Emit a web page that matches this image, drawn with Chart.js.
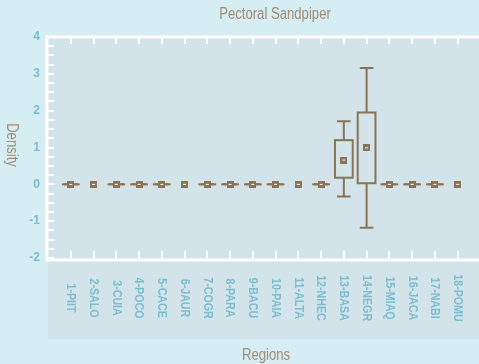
<!DOCTYPE html>
<html>
<head>
<meta charset="utf-8">
<script src="https://cdn.jsdelivr.net/npm/chart.js@4.4.1/dist/chart.umd.min.js"></script>
<style>
  html, body { margin: 0; padding: 0; background: #d5edf3; }
  #wrap { width: 479px; height: 364px; position: relative; }
</style>
</head>
<body>
<div id="wrap"><canvas id="c" width="479" height="364"></canvas></div>
<script>
// Density of Pectoral Sandpiper per region: mean, box (q1..q3) and whiskers
const regions = ['1-PIIT','2-SALO','3-CUIA','4-POCO','5-CACE','6-JAUR','7-COGR','8-PARA','9-BACU',
                 '10-PAIA','11-ALTA','12-NHEC','13-BASA','14-NEGR','15-MIAQ','16-JACA','17-NABI','18-POMU'];
const means       = [0, 0, 0, 0, 0, 0, 0, 0, 0, 0, 0, 0, 0.66, 0.99, 0, 0, 0, 0];
const boxLow      = [0, null, 0, 0, 0, null, 0, 0, 0, 0, null, 0, 0.18, 0.03, 0, 0, 0, null];
const boxHigh     = [0, null, 0, 0, 0, null, 0, 0, 0, 0, null, 0, 1.20, 1.95, 0, 0, 0, null];
const whiskerLow  = [0, null, 0, 0, 0, null, 0, 0, 0, 0, null, 0, -0.33, -1.18, 0, 0, 0, null];
const whiskerHigh = [0, null, 0, 0, 0, null, 0, 0, 0, 0, null, 0, 1.71, 3.16, 0, 0, 0, null];
const yTickValues = [4, 3, 2, 1, 0, -1, -2];

const BROWN = '#8b7355';
const TEXT_BROWN = '#a08d78';
const TICK_BLUE = '#7dbdd0';
const PLOT_BG = '#d2e3ea';
const PAGE_BG = '#d5edf3';
const SANS = '"Liberation Sans", Arial, sans-serif';
const NARROW_SCALE = 0.82; // condensed look for drawn labels

// mean marker: small brown square with a white dash
const marker = document.createElement('canvas');
marker.width = 7; marker.height = 7;
(function () {
  const m = marker.getContext('2d');
  m.fillStyle = BROWN; m.fillRect(0, 0, 7, 7);
  m.fillStyle = '#ffffff'; m.fillRect(2, 3, 3, 1);
})();

function narrowText(ctx, text, x, y, angle) {
  ctx.save();
  ctx.translate(x, y);
  ctx.rotate(angle);
  ctx.scale(NARROW_SCALE, 1);
  ctx.fillText(text, 0, 0);
  ctx.restore();
}

const frame = {
  id: 'frame',
  beforeDraw(chart) {
    const { ctx, chartArea: a } = chart;
    ctx.save();
    ctx.fillStyle = PAGE_BG;
    ctx.fillRect(0, 0, chart.width, chart.height);
    ctx.fillStyle = PLOT_BG;
    ctx.fillRect(a.left, a.top, chart.width - a.left, 339 - a.top);
    ctx.restore();
  },
  beforeDatasetsDraw(chart) {
    const { ctx, chartArea: a, scales: { x, y } } = chart;
    ctx.save();
    // white frame (left, top, bottom)
    ctx.strokeStyle = '#ffffff';
    ctx.lineWidth = 3;
    ctx.beginPath();
    ctx.moveTo(chart.width, a.top);
    ctx.lineTo(a.left - 1, a.top);
    ctx.lineTo(a.left - 1, 260);
    ctx.lineTo(chart.width, 260);
    ctx.stroke();
    // category ticks on top and bottom edges
    ctx.fillStyle = '#ffffff';
    regions.forEach((r, i) => {
      const px = Math.round(x.getPixelForValue(i + 1));
      ctx.fillRect(px - 1, a.top, 2, 7);
      ctx.fillRect(px - 1, 251, 2, 7);
    });
    // quarter-unit ticks on the left edge
    for (let v = -2; v <= 4; v += 0.25) {
      const py = Math.round(y.getPixelForValue(v));
      ctx.fillRect(a.left, py - 1, 6, 2);
    }
    // boxes and whiskers
    ctx.strokeStyle = BROWN;
    ctx.lineWidth = 2;
    regions.forEach((r, i) => {
      if (boxLow[i] === null) return;
      const cx = x.getPixelForValue(i + 1);
      const bw = x.getPixelForValue(i + 1.39) - cx;
      const cw = x.getPixelForValue(i + 1.30) - cx;
      const yl = y.getPixelForValue(boxLow[i]);
      const yh = y.getPixelForValue(boxHigh[i]);
      const wl = y.getPixelForValue(whiskerLow[i]);
      const wh = y.getPixelForValue(whiskerHigh[i]);
      ctx.beginPath();
      ctx.moveTo(cx, yh); ctx.lineTo(cx, wh);
      ctx.moveTo(cx, yl); ctx.lineTo(cx, wl);
      ctx.moveTo(cx - cw, wh); ctx.lineTo(cx + cw, wh);
      ctx.moveTo(cx - cw, wl); ctx.lineTo(cx + cw, wl);
      ctx.stroke();
      if (yh === yl) {
        ctx.beginPath();
        ctx.moveTo(cx - bw, yl); ctx.lineTo(cx + bw, yl);
        ctx.stroke();
      } else {
        ctx.strokeRect(cx - bw, yh, 2 * bw, yl - yh);
      }
    });
    ctx.restore();
  },
  afterDraw(chart) {
    const { ctx, scales: { x } } = chart;
    ctx.save();
    ctx.textAlign = 'center';
    ctx.textBaseline = 'middle';
    // region labels, rotated to read downward
    ctx.fillStyle = TICK_BLUE;
    ctx.font = 'bold 13px ' + SANS;
    regions.forEach((r, i) => narrowText(ctx, r, x.getPixelForValue(i + 1), 298, Math.PI / 2));
    // titles
    ctx.fillStyle = TEXT_BROWN;
    ctx.font = '16px ' + SANS;
    narrowText(ctx, 'Pectoral Sandpiper', 275, 15, 0);
    narrowText(ctx, 'Regions', 266, 356, 0);
    narrowText(ctx, 'Density', 11, 145, Math.PI / 2);
    ctx.restore();
  }
};

new Chart(document.getElementById('c'), {
  type: 'scatter',
  data: {
    datasets: [{
      label: 'Mean',
      data: means.map((m, i) => ({ x: i + 1, y: m })),
      pointStyle: marker,
      pointRadius: 4,
      borderColor: BROWN,
      backgroundColor: BROWN
    }]
  },
  options: {
    responsive: false,
    animation: false,
    layout: { padding: { top: 37, bottom: 106, left: 0, right: 0 } },
    plugins: { legend: { display: false }, tooltip: { enabled: false }, title: { display: false } },
    scales: {
      x: { type: 'linear', display: false, min: 0, max: 18.72 },
      y: {
        min: -2, max: 4,
        afterFit(s) { s.width = 48; },
        afterBuildTicks(s) { s.ticks = yTickValues.map(v => ({ value: v })); },
        ticks: { color: TICK_BLUE, font: { family: SANS, size: 12, weight: 'bold' }, padding: 8 },
        grid: { display: false, drawTicks: false },
        border: { display: false }
      }
    }
  },
  plugins: [frame]
});
</script>
</body>
</html>
